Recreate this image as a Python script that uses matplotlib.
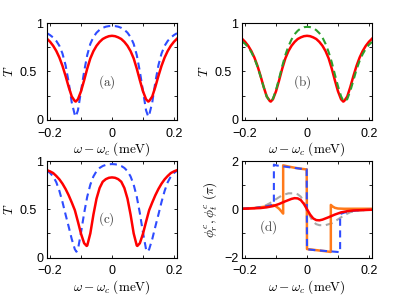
import matplotlib
matplotlib.use("Agg")
import matplotlib.pyplot as plt
from matplotlib.transforms import ScaledTranslation

plt.rcParams['font.family'] = ['Liberation Sans', 'DejaVu Sans']
plt.rcParams['mathtext.fontset'] = 'cm'

# ---------------- data ----------------
# panels (a) and (b): detuning grid (meV)
x_ab = [-0.21, -0.20, -0.19, -0.18, -0.17, -0.16, -0.15, -0.14, -0.13, -0.12, -0.117,
        -0.11, -0.10, -0.09, -0.08, -0.07, -0.06, -0.05, -0.04, -0.03, -0.02, -0.01, 0.0,
        0.01, 0.02, 0.03, 0.04, 0.05, 0.06, 0.07, 0.08, 0.09, 0.10, 0.11,
        0.117, 0.12, 0.13, 0.14, 0.15, 0.16, 0.17, 0.18, 0.19, 0.20, 0.21]

T_red_a = [0.838, 0.806, 0.765, 0.712, 0.644, 0.558, 0.454, 0.341, 0.242, 0.195, 0.19,
           0.214, 0.297, 0.41, 0.53, 0.635, 0.71, 0.765, 0.805, 0.835, 0.852, 0.864, 0.868,
           0.864, 0.852, 0.835, 0.805, 0.765, 0.71, 0.635, 0.53, 0.41, 0.297, 0.214,
           0.19, 0.195, 0.242, 0.341, 0.454, 0.558, 0.644, 0.712, 0.765, 0.806, 0.838]

T_blue_a = [0.895, 0.875, 0.85, 0.815, 0.765, 0.685, 0.565, 0.39, 0.18, 0.05, 0.035,
            0.10, 0.30, 0.50, 0.67, 0.785, 0.855, 0.90, 0.93, 0.95, 0.962, 0.968, 0.97,
            0.968, 0.962, 0.95, 0.93, 0.90, 0.855, 0.785, 0.67, 0.50, 0.30, 0.10,
            0.035, 0.05, 0.18, 0.39, 0.565, 0.685, 0.765, 0.815, 0.85, 0.875, 0.895]

T_red_b = T_red_a

T_green_b = [0.81, 0.785, 0.75, 0.70, 0.635, 0.55, 0.45, 0.34, 0.24, 0.195, 0.19,
             0.22, 0.31, 0.43, 0.555, 0.67, 0.76, 0.83, 0.885, 0.92, 0.945, 0.957, 0.96,
             0.958, 0.948, 0.926, 0.895, 0.85, 0.785, 0.70, 0.595, 0.47, 0.35, 0.245,
             0.20, 0.19, 0.215, 0.30, 0.41, 0.52, 0.61, 0.68, 0.735, 0.775, 0.805]

# panel (c)
x_red_c = [-0.21, -0.20, -0.19, -0.18, -0.17, -0.16, -0.15, -0.14, -0.13, -0.12, -0.11,
           -0.10, -0.09, -0.082, -0.08, -0.07, -0.06, -0.05, -0.04, -0.03, -0.02, -0.01, 0.0,
           0.01, 0.02, 0.03, 0.04, 0.05, 0.06, 0.07, 0.08, 0.082, 0.09, 0.10,
           0.11, 0.12, 0.13, 0.14, 0.15, 0.16, 0.17, 0.18, 0.19, 0.20, 0.21]
T_red_c = [0.905, 0.892, 0.875, 0.845, 0.81, 0.765, 0.71, 0.645, 0.57, 0.49, 0.37,
           0.245, 0.148, 0.12, 0.124, 0.25, 0.445, 0.61, 0.72, 0.785, 0.812, 0.826, 0.83,
           0.826, 0.812, 0.785, 0.72, 0.61, 0.445, 0.25, 0.124, 0.12, 0.148, 0.245,
           0.37, 0.49, 0.57, 0.645, 0.71, 0.765, 0.81, 0.845, 0.875, 0.892, 0.905]

x_blue_c = [-0.21, -0.20, -0.19, -0.18, -0.17, -0.16, -0.15, -0.14, -0.13, -0.12, -0.115,
            -0.11, -0.10, -0.09, -0.08, -0.07, -0.06, -0.05, -0.04, -0.03, -0.02, -0.01, 0.0,
            0.01, 0.02, 0.03, 0.04, 0.05, 0.06, 0.07, 0.08, 0.09, 0.10, 0.11,
            0.115, 0.12, 0.13, 0.14, 0.15, 0.16, 0.17, 0.18, 0.19, 0.20, 0.21]
T_blue_c = [0.90, 0.875, 0.84, 0.78, 0.69, 0.575, 0.445, 0.32, 0.19, 0.085, 0.06,
            0.085, 0.26, 0.46, 0.63, 0.755, 0.84, 0.895, 0.928, 0.948, 0.96, 0.966, 0.968,
            0.966, 0.96, 0.948, 0.928, 0.895, 0.84, 0.755, 0.63, 0.46, 0.26, 0.085,
            0.06, 0.085, 0.19, 0.32, 0.445, 0.575, 0.69, 0.78, 0.84, 0.875, 0.90]

# panel (d): phases (units of pi)
x_orange_d = [-0.21, -0.17, -0.14, -0.12, -0.108, -0.10, -0.09, -0.082, -0.077, -0.077,
              -0.06, -0.04, -0.02, -0.001, 0.0, 0.02, 0.04, 0.06, 0.077, 0.077,
              0.082, 0.09, 0.10, 0.12, 0.15, 0.21]
phi_orange_d = [0.02, 0.05, 0.10, 0.15, 0.17, 0.12, 0.02, -0.10, -0.18, 1.82,
                1.77, 1.72, 1.68, 1.65, -1.65, -1.68, -1.71, -1.74, -1.77, 0.18,
                0.12, 0.06, 0.03, 0.02, 0.02, 0.02]

x_blue_d = [-0.21, -0.17, -0.14, -0.12, -0.107, -0.107, -0.10, -0.08, -0.05, -0.02,
            -0.001, 0.0, 0.03, 0.06, 0.09, 0.107, 0.107, 0.12, 0.14, 0.17, 0.21]
phi_blue_d = [0.02, 0.05, 0.10, 0.15, 0.20, 1.85, 1.82, 1.78, 1.73, 1.68,
              1.66, -1.66, -1.70, -1.73, -1.76, -1.78, -0.20, -0.14, -0.08, -0.04, -0.02]

x_gray_d = [-0.21, -0.17, -0.14, -0.12, -0.10, -0.08, -0.06, -0.04, -0.03, -0.02, -0.01, 0.0,
            0.01, 0.02, 0.03, 0.04, 0.06, 0.08, 0.10, 0.12, 0.14, 0.17, 0.21]
phi_gray_d = [0.02, 0.05, 0.12, 0.25, 0.42, 0.58, 0.66, 0.66, 0.62, 0.52, 0.30, 0.0,
              -0.30, -0.52, -0.62, -0.66, -0.66, -0.58, -0.42, -0.25, -0.12, -0.05, -0.02]

x_red_d = [-0.21, -0.19, -0.17, -0.15, -0.13, -0.11, -0.09, -0.07, -0.05, -0.04, -0.03,
           -0.02, -0.01, 0.0, 0.01, 0.02, 0.03, 0.04, 0.05, 0.07, 0.09, 0.11, 0.13,
           0.15, 0.17, 0.19, 0.21]
phi_red_d = [0.02, 0.03, 0.04, 0.05, 0.08, 0.13, 0.22, 0.33, 0.43, 0.46, 0.45,
             0.38, 0.22, 0.0, -0.22, -0.38, -0.45, -0.46, -0.43, -0.33, -0.22, -0.13, -0.08,
             -0.05, -0.04, -0.03, -0.02]

xticks = [-0.2, -0.1, 0.0, 0.1, 0.2]
xticklabels = ['\u22120.2', '', '0', '', '0.2']
Tticks = [0, 0.25, 0.5, 0.75, 1]
Tticklabels = ['0', '', '0.5', '', '1']
phiticks = [-2, -1, 0, 1, 2]
phiticklabels = ['\u22122', '', '0', '', '2']

# ---------------- figure ----------------
W, H = 395, 297
fig = plt.figure(figsize=(W / 100, H / 100), dpi=100)

def box(l, t, r, b):
    return [l / W, 1 - b / H, (r - l) / W, (b - t) / H]

axA = fig.add_axes(box(47, 23, 177, 120))
axB = fig.add_axes(box(242, 23, 372, 120))
axC = fig.add_axes(box(47, 161, 177, 257.5))
axD = fig.add_axes(box(242, 161, 372, 257.5))

RED = '#ff0000'
BLUE = '#2f4cff'
GREEN = '#2ca02c'
ORANGE = '#ff7a1a'
GRAY = '#a8a8a8'
lw_s = 1.8
lw_d = 1.5
dash = (0, (3.4, 2.2))

axA.plot(x_ab, T_blue_a, color=BLUE, lw=lw_d, ls=dash)
axA.plot(x_ab, T_red_a, color=RED, lw=lw_s)

axB.plot(x_ab, T_red_b, color=RED, lw=lw_s)
axB.plot(x_ab, T_green_b, color=GREEN, lw=lw_d, ls=dash)

axC.plot(x_blue_c, T_blue_c, color=BLUE, lw=lw_d, ls=dash)
axC.plot(x_red_c, T_red_c, color=RED, lw=lw_s)

axD.plot(x_gray_d, phi_gray_d, color=GRAY, lw=lw_d, ls=dash)
axD.plot(x_orange_d, phi_orange_d, color=ORANGE, lw=lw_s)
axD.plot(x_blue_d, phi_blue_d, color=BLUE, lw=lw_d, ls=dash)
axD.plot(x_red_d, phi_red_d, color=RED, lw=lw_s)

xlabel = r'$\omega-\omega_c\ \mathrm{(meV)}$'
for ax in (axA, axB, axC, axD):
    ax.set_xlim(-0.21, 0.21)
    ax.set_xticks(xticks)
    ax.set_xticklabels(xticklabels)
    ax.tick_params(direction='in', top=True, right=True, length=2.5, width=0.6,
                   labelsize=9)
    ax.tick_params(axis='x', pad=5.6)
    ax.tick_params(axis='y', pad=2.6)
    for s in ax.spines.values():
        s.set_linewidth(0.8)
    ax.set_xlabel(xlabel, fontsize=9.5, labelpad=0.5)

shift = ScaledTranslation(-6.5 / 100, 0, fig.dpi_scale_trans)
for ax in (axA, axB, axC):
    ax.set_ylim(0, 1)
    ax.set_yticks(Tticks)
    ax.set_yticklabels(Tticklabels)
    lab = ax.get_yticklabels()[2]
    lab.set_transform(lab.get_transform() + shift)
    ax.set_ylabel(r'$T$', fontsize=9.5, labelpad=2.5)

axD.set_ylim(-2, 2)
axD.set_yticks(phiticks)
axD.set_yticklabels(phiticklabels)
axD.set_ylabel(r'$\phi_r^c,\phi_t^c\ (\pi)$', fontsize=9.5, labelpad=4)

lab_kw = dict(fontsize=9.5, color='#444444', ha='center', va='center')
axA.text(0.46, 0.39, r'$\mathrm{(a)}$', transform=axA.transAxes, **lab_kw)
axB.text(0.46, 0.39, r'$\mathrm{(b)}$', transform=axB.transAxes, **lab_kw)
axC.text(0.46, 0.40, r'$\mathrm{(c)}$', transform=axC.transAxes, **lab_kw)
axD.text(0.205, 0.31, r'$\mathrm{(d)}$', transform=axD.transAxes, **lab_kw)

fig.savefig('out.png', dpi=100)
